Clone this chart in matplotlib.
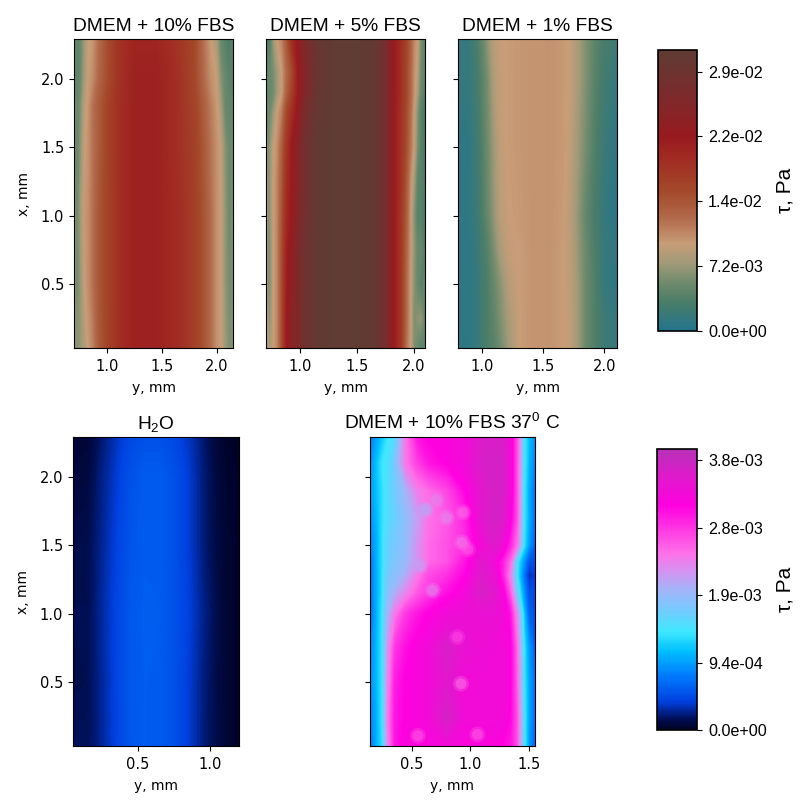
import numpy as np
import matplotlib
matplotlib.use('Agg')
import matplotlib.pyplot as plt
from matplotlib.colors import LinearSegmentedColormap, Normalize
from matplotlib.cm import ScalarMappable

plt.rcParams['mathtext.fontset'] = 'custom'
plt.rcParams['mathtext.rm'] = 'Liberation Sans'
plt.rcParams['mathtext.default'] = 'rm'

# Fields below are shear stress, in 1e-3 Pa.
y1 = [.70,.73,.76,.80,.83,.87,.93,1.0,1.1,1.25,1.45,1.65,1.8,1.88,1.94,1.99,2.03,2.07,2.11,2.145]
x1 = [.035,.5,1.0,1.5,1.8,2.0,2.29]
tau1 = [
 [7,6.5,7,8.5,9.7,11,14,16,18.5,20.5,20.5,19,16.5,14.5,12.5,10.5,9.7,7.5,6,6.5],
 [7,5,7,9.7,10.5,12,14.5,16,18.5,20.5,20.5,19,16.5,14.5,12.5,10.5,9.7,7,5.5,6],
 [7,5,7.5,10,10.5,12,14.5,16,18.5,20.5,20.5,19,16.5,14.5,12.5,10.5,9.7,7,5,6],
 [6,4.5,6.5,9.7,10.2,12,14,16,18.5,20.5,20.5,18.5,16.5,14,12,10.5,9.5,6.5,5,5.5],
 [6,4.5,6,9,10,12,14,16,18.5,20.5,20.5,18.5,16,13.5,11.5,10,8,5,4.5,4.5],
 [5,4,5,8,9.7,10.5,13,15,18,20.5,20.5,18.5,15.5,12.5,10.5,9.7,6.5,5,4,4],
 [5,4,5,7.5,9.5,10,12.5,15,18,20,20,18,15.5,12,9.7,8,5,4,3,4],
]

y2 = [.70,.72,.74,.77,.80,.84,.88,.93,.98,1.05,1.15,1.3,1.5,1.65,1.75,1.82,1.88,1.93,1.97,2.0,2.03,2.06,2.085,2.1]
x2 = [.035,.25,.5,.75,1.0,1.25,1.5,1.75,1.9,2.05,2.29]
tau2 = [
 [9.5,8.5,8,9.7,11,15,21,24,25.5,28.5,30.5,31,31,30.5,27,21.6,18,12.5,9.7,6,5,4,4,4.5],
 [9.5,7,7,9.7,11,15,21,24,25.5,28.5,30.5,31,31,30.5,27,21.6,18,13,9.7,6,6.5,7,5.5,4],
 [9,5.5,6.5,9.7,11,15,20.5,23.5,25.5,28.5,30.5,31,31,30.5,27,21.6,18,13,9.7,6.5,5,4,4,5],
 [9,5.5,6.5,9.7,11,15,20,23,25.5,28.5,30.5,31,31,30.5,27,21.6,18,13.5,10,7,5,5,4,3.5],
 [9,6,7,9.7,11,14.5,19,22,24.5,28,30.5,31,31,30.5,27,21.6,18,14,10,6.5,4,4,3,3.5],
 [9,6,7,9.7,11,14,18.5,21.6,24,28,30.5,31,31,30.5,27,21.6,18.5,14.5,10.5,8,4.5,4,3.5,3],
 [8,5.5,7,9.5,10.5,13.5,17.5,21.6,24,28,30.5,31,31,30.5,27,21.6,18.5,15.5,12,9.7,6,4,3,3.5],
 [5.5,5,5.5,7.5,9.7,11.5,15.5,19,22,27,30,31,31,30.5,27,21.6,18.5,15.5,12.5,9.7,6.5,4,3,2.5],
 [5,4.5,5,5.5,7.5,9.7,13,16.5,21,25.5,29.5,31,31,30.5,27,21.6,19,16,13,10.5,8,5,4,3.5],
 [5,4.5,5,6,7.5,9.7,12.5,15.5,21,25,29,31,31,30.5,27,21.6,19,16,13,10.5,9,5.5,4.5,4.5],
 [4,3,4,7.5,9.7,11,14,19,22,26,29.5,31,31,30.5,27,21.6,19,16.5,13.5,11,9.7,6,4.5,4.5],
]

y3 = [.80,.88,.95,1.0,1.05,1.1,1.15,1.22,1.3,1.4,1.55,1.65,1.72,1.78,1.85,1.92,2.0,2.105]
x3 = [.035,.25,.5,.75,1.0,1.5,2.0,2.29]
tau3 = [
 [.5,1,1.5,2.5,3.5,4,5.5,7.5,9.6,10.2,10.3,9.8,9.3,7.5,5,3.5,2,1.5],
 [1,1,1.5,2.5,3.5,4.5,6,8,9.6,10.2,10.3,9.8,9.3,7.5,5,3.5,2,1.5],
 [1,1,1.5,2.5,3.5,5,6.5,8.7,9.7,10.2,10.3,9.8,9.2,7.5,5,3.5,1.5,1],
 [1,1,1.5,2.8,4,6,8,9.5,9.7,10.2,10.3,9.8,9.1,7.2,5,3.3,1.5,1.2],
 [1,1,1.8,3.2,5,7,9,9.7,9.9,10.2,10.3,9.9,9,7,4.5,3,1.5,.5],
 [1,1,2,3.5,5.5,7.5,9.3,9.8,10,10.2,10.3,10,9.3,7.5,5.5,3.5,1.8,1],
 [1.5,1.5,2.5,4,6,8.5,9.5,9.8,10,10.2,10.3,10,9.5,8,6,4,2.5,1.5],
 [1.5,1.5,3,4.5,7,9,9.6,9.8,10,10.2,10.3,10,9.5,8,6,4.2,3,2],
]

y4 = [.05,.15,.2,.25,.3,.37,.45,.55,.65,.75,.85,.95,1.02,1.08,1.12,1.2]
x4 = [.035,.5,1.0,1.5,2.0,2.29]
tau4 = [
 [.18,.16,.2,.27,.34,.44,.53,.57,.56,.5,.38,.22,.14,.09,.05,.04],
 [.12,.14,.2,.27,.34,.45,.54,.57,.56,.5,.38,.23,.14,.08,.05,.04],
 [.14,.14,.2,.28,.35,.45,.54,.58,.57,.5,.4,.25,.16,.08,.05,.04],
 [.12,.13,.19,.26,.33,.43,.52,.56,.56,.5,.38,.22,.13,.07,.05,.04],
 [.08,.09,.16,.24,.3,.4,.5,.56,.56,.5,.38,.22,.12,.06,.04,.03],
 [.06,.07,.12,.2,.26,.36,.45,.5,.5,.45,.34,.2,.1,.05,.03,.03],
]

y5 = [.147,.2,.25,.3,.36,.45,.55,.65,.8,.95,1.1,1.2,1.28,1.34,1.4,1.46,1.5,1.55]
x5 = [.035,.25,.5,.75,1.0,1.15,1.28,1.38,1.5,1.7,1.9,2.1,2.29]
tau5 = [
 [.7,1.0,1.3,2.3,3.0,3.2,3.2,3.2,3.3,3.2,3.2,3.2,3.1,3.0,2.6,1.4,.9,.6],
 [.8,1.0,1.35,2.4,3.0,3.15,3.2,3.3,3.65,3.3,3.3,3.3,3.3,3.1,2.6,1.4,.95,.7],
 [.85,1.05,1.35,2.3,2.95,3.15,3.2,3.3,3.5,3.3,3.3,3.3,3.3,3.15,2.5,1.35,.95,.7],
 [.8,1.05,1.35,2.2,2.8,3.05,3.2,3.3,3.6,3.4,3.35,3.3,3.3,3.15,2.45,1.3,.9,.6],
 [.7,1.0,1.35,1.95,2.4,2.8,3.0,3.15,3.3,3.35,3.4,3.4,3.3,3.0,2.2,1.1,.6,.5],
 [.7,1.0,1.3,1.8,2.0,2.3,2.6,2.8,3.05,3.25,3.6,3.5,3.2,2.6,1.6,.85,.5,.5],
 [.7,1.0,1.3,1.7,1.8,2.0,2.4,2.7,2.85,3.1,3.55,3.4,2.9,2.3,1.35,.7,.3,.4],
 [.7,1.0,1.3,1.6,1.75,1.9,2.2,2.5,2.65,3.0,3.5,3.3,2.9,2.5,1.4,.85,.5,.5],
 [.8,1.0,1.3,1.6,1.7,1.85,2.2,2.5,2.65,2.85,3.3,3.55,3.3,2.9,2.4,1.3,.9,.6],
 [.85,1.05,1.3,1.5,1.6,1.85,2.1,2.45,2.6,2.9,3.5,3.65,3.55,3.2,2.6,1.35,1.0,.7],
 [.9,1.1,1.3,1.5,1.65,1.95,2.35,2.5,2.7,3.1,3.5,3.65,3.6,3.3,2.6,1.35,1.0,.7],
 [.85,1.1,1.35,1.45,1.7,2.4,2.75,3.0,3.15,3.3,3.6,3.65,3.6,3.3,2.6,1.4,1.05,.8],
 [.75,.95,1.15,1.35,1.5,2.4,3.0,3.15,3.2,3.3,3.55,3.6,3.55,3.3,2.6,1.4,1.1,.85],
]
# Small lighter spots in the DMEM 37 C field: y, x, tau
spot_y = [.71,.80,.94,.93,.57,.68,.89,.92,.555,1.06,.62,.98]
spot_x = [1.83,1.70,1.74,1.52,1.35,1.17,.83,.49,.11,.12,1.76,1.47]
spot_tau = [2.3,2.3,2.5,2.4,2.1,2.3,2.7,2.45,2.6,2.6,2.0,2.6]

titles_top = ['DMEM + 10% FBS', 'DMEM + 5% FBS', 'DMEM + 1% FBS']
titles_bot = ['H$_2$O', 'DMEM + 10% FBS 37$^0$ C']
ticks_top = [0, 7.2, 14.4, 21.6, 28.8]
ticks_bot = [0, .94, 1.88, 2.82, 3.76]
vmax_top, vmax_bot = 31.2, 3.92

cmap_top = LinearSegmentedColormap.from_list('top', [
 (0, '#23748f'), (.1, '#4a7d68'), (.17, '#6f8a6c'), (.24, '#a09a78'), (.31, '#c89d78'),
 (.4, '#b26a4c'), (.5, '#a4482a'), (.62, '#a12a22'), (.69, '#981a1f'), (.85, '#7a2b2c'), (1, '#5f3c34')], N=256)
cmap_bot = LinearSegmentedColormap.from_list('bot', [
 (0, '#000020'), (.04, '#00105a'), (.1, '#0040e0'), (.2, '#0080ff'), (.28, '#00c0ff'),
 (.35, '#40e8ff'), (.42, '#70ccff'), (.5, '#a4b4f8'), (.57, '#d890f0'), (.63, '#ff70e8'),
 (.8, '#ff00e0'), (.9, '#e018cc'), (1, '#b832b8')], N=256)

W = H = 806
fig = plt.figure(figsize=(W / 100, H / 100), dpi=100)

def axpx(l, t, r, b):
    return fig.add_axes([l / W, 1 - b / H, (r - l) / W, (b - t) / H])

def panel(box, ys, xs, tau, cmap, vmax, xlim, xticks, title, labelled):
    ax = axpx(*box)
    ax.contourf(np.array(ys), np.array(xs), np.array(tau) * 1e-3,
                levels=np.linspace(0, vmax * 1e-3, 256), cmap=cmap, extend='both')
    ax.set_xlim(*xlim)
    ax.set_ylim(.035, 2.29)
    ax.set_xticks(xticks)
    ax.set_yticks([.5, 1, 1.5, 2])
    ax.tick_params(labelsize=10.5, labelleft=labelled)
    ax.tick_params(axis='x', pad=4.5)
    ax.set_xlabel('y, mm', fontsize=10, labelpad=5)
    if labelled:
        ax.set_ylabel('x, mm', fontsize=10, labelpad=7)
    ax.set_title(title, family='Liberation Sans', fontsize=13.8, pad=6)
    return ax

def bar(box, cmap, vmax, ticks):
    cax = axpx(*box)
    sm = ScalarMappable(Normalize(0, vmax * 1e-3), cmap)
    cb = fig.colorbar(sm, cax=cax, ticks=[t * 1e-3 for t in ticks])
    cb.ax.tick_params(pad=4.5)
    cb.ax.set_yticklabels(['%.1e' % (t * 1e-3) for t in ticks], family='Liberation Sans', fontsize=11.6)
    cb.set_label('τ, Pa', family='Liberation Sans', fontsize=15, labelpad=6)
    cb.outline.set_linewidth(1.2)

panel((74, 39, 233, 348), y1, x1, tau1, cmap_top, vmax_top, (.70, 2.145), [1, 1.5, 2], titles_top[0], True)
panel((266, 39, 425, 348), y2, x2, tau2, cmap_top, vmax_top, (.70, 2.10), [1, 1.5, 2], titles_top[1], False)
panel((458, 39, 617, 348), y3, x3, tau3, cmap_top, vmax_top, (.80, 2.105), [1, 1.5, 2], titles_top[2], False)
bar((658, 50, 697, 331), cmap_top, vmax_top, ticks_top)

panel((73, 437, 239, 746), y4, x4, tau4, cmap_bot, vmax_bot, (.05, 1.2), [.5, 1], titles_bot[0], True)
ax5 = panel((370, 437, 535, 746), y5, x5, tau5, cmap_bot, vmax_bot, (.147, 1.55), [.5, 1, 1.5], titles_bot[1], False)
spot_c = np.array(spot_tau) * 1e-3
for size, alpha in ((130, .3), (60, .5)):
    ax5.scatter(spot_y, spot_x, c=spot_c, cmap=cmap_bot, norm=Normalize(0, vmax_bot * 1e-3),
                s=size, alpha=alpha, linewidths=0)
bar((657, 449, 697, 730), cmap_bot, vmax_bot, ticks_bot)

fig.savefig('out.png', dpi=100)
